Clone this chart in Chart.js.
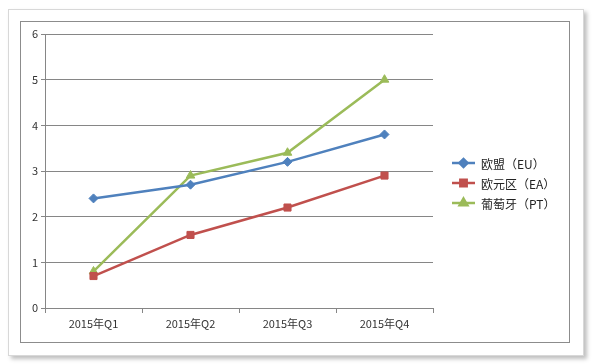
<!DOCTYPE html>
<html>
<head>
<meta charset="utf-8">
<script src="https://cdn.jsdelivr.net/npm/chart.js@4/dist/chart.umd.min.js"></script>
<style>
  html, body { margin: 0; padding: 0; background: #fff; }
  body { width: 593px; height: 364px; position: relative; overflow: hidden; }
  #card {
    position: absolute; left: 8px; top: 9px; width: 574px; height: 345px;
    background: #fff; border: 1px solid #d8d8d8;
    box-shadow: 3px 3px 4px rgba(0,0,0,0.25);
  }
  #frame {
    position: absolute; left: 20px; top: 21px; width: 548px; height: 320px;
    border: 1px solid #8c8c8c; background: #fff;
  }
  #chart { position: absolute; left: 0; top: 0; }
</style>
</head>
<body>
<div id="card"></div>
<div id="frame"><canvas id="chart" width="548" height="320"></canvas></div>
<script>
const quarters = ["2015年Q1", "2015年Q2", "2015年Q3", "2015年Q4"];
const seriesNames = ["欧盟（EU）", "欧元区（EA）", "葡萄牙（PT）"];
const euValues = [2.4, 2.7, 3.2, 3.8];
const eaValues = [0.7, 1.6, 2.2, 2.9];
const ptValues = [0.8, 2.9, 3.4, 5.0];
const yTicks = [0, 1, 2, 3, 4, 5, 6];

const fontFamily = "'Noto Sans CJK SC', 'Noto Sans', sans-serif";
Chart.defaults.font.family = fontFamily;
Chart.defaults.font.size = 11;
Chart.defaults.color = "#333";

// legend drawn by hand: line with the marker in the middle, like Excel
const sideLegend = {
  id: "sideLegend",
  afterDraw(chart) {
    const ctx = chart.ctx;
    const x0 = 431, y0 = 141, step = 20;
    chart.data.datasets.forEach((ds, i) => {
      const y = y0 + i * step;
      ctx.save();
      ctx.strokeStyle = ds.borderColor;
      ctx.lineWidth = 2.5;
      ctx.beginPath();
      ctx.moveTo(x0, y);
      ctx.lineTo(x0 + 23, y);
      ctx.stroke();
      Chart.helpers.drawPoint(ctx, {
        pointStyle: ds.pointStyle,
        radius: ds.pointRadius - 0.5,
        rotation: 0,
        borderWidth: 1
      }, x0 + 11.5, y);
      ctx.fillStyle = ds.backgroundColor;
      ctx.strokeStyle = ds.borderColor;
      ctx.fill();
      ctx.fillStyle = "#222";
      ctx.font = "12px " + fontFamily;
      ctx.textBaseline = "middle";
      ctx.fillText(ds.label, x0 + 29, y + 1);
      ctx.restore();
    });
  }
};

function makeSet(label, values, color, style, radius) {
  return {
    label: label,
    data: values,
    borderColor: color,
    backgroundColor: color,
    borderWidth: 2.5,
    pointStyle: style,
    pointRadius: radius,
    pointHoverRadius: radius,
    pointBorderWidth: 1,
    tension: 0
  };
}

new Chart(document.getElementById("chart"), {
  type: "line",
  data: {
    labels: quarters,
    datasets: [
      makeSet(seriesNames[0], euValues, "#4F81BD", "rectRot", 4.5),
      makeSet(seriesNames[1], eaValues, "#C0504D", "rect", 5),
      makeSet(seriesNames[2], ptValues, "#9BBB59", "triangle", 5)
    ]
  },
  options: {
    responsive: false,
    animation: false,
    layout: { padding: { left: 0, top: 12, right: 136, bottom: 0 } },
    plugins: { legend: { display: false }, tooltip: { enabled: false } },
    scales: {
      x: {
        offset: true,
        grid: { offset: true, drawOnChartArea: false, tickLength: 5, color: "#868686" },
        border: { color: "#868686" },
        ticks: { padding: 4, color: "#333" },
        afterFit(s) { s.height = 34; }
      },
      y: {
        min: 0,
        max: 6,
        afterBuildTicks(s) { s.ticks = yTicks.map(v => ({ value: v })); },
        grid: { color: "#868686", tickLength: 4 },
        border: { color: "#868686" },
        ticks: { padding: 3, color: "#333" },
        afterFit(s) { s.width = 24; }
      }
    }
  },
  plugins: [sideLegend]
});
</script>
</body>
</html>
